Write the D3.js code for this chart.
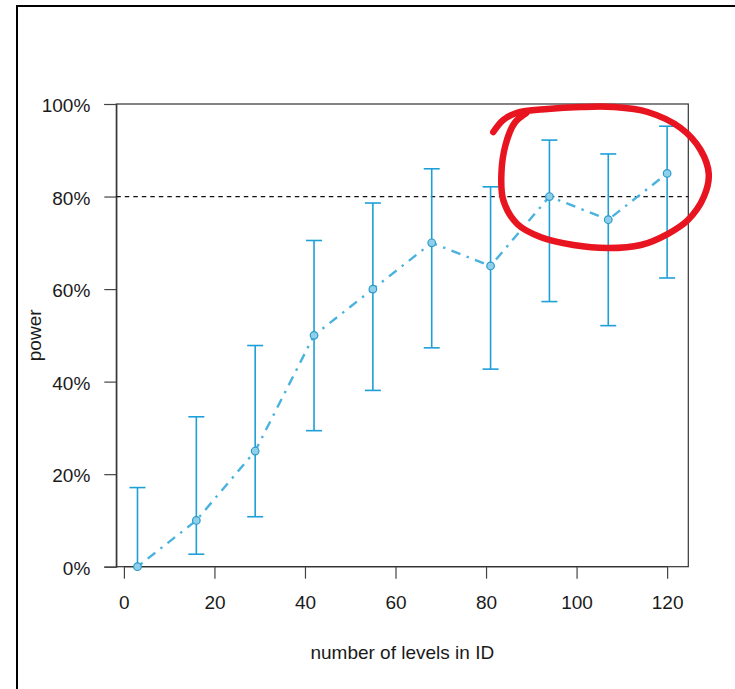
<!DOCTYPE html>
<html>
<head>
<meta charset="utf-8">
<script src="https://cdn.jsdelivr.net/npm/d3@7/dist/d3.min.js"></script>
<style>
  html, body { margin: 0; padding: 0; background: #fff; }
  svg { display: block; }
  text { font-family: "Liberation Sans", Arial, Helvetica, sans-serif; fill: #1a1a1a; }
</style>
</head>
<body>
<script>
// ---- data ----
const levels = [3, 16, 29, 42, 55, 68, 81, 94, 107, 120];
const power  = [0.00, 0.10, 0.25, 0.50, 0.60, 0.70, 0.65, 0.80, 0.75, 0.85];
const lower  = [0.000, 0.027, 0.108, 0.294, 0.381, 0.473, 0.427, 0.573, 0.521, 0.624];
const upper  = [0.171, 0.324, 0.478, 0.705, 0.786, 0.860, 0.821, 0.922, 0.892, 0.952];
const xTicks = [0, 20, 40, 60, 80, 100, 120];
const yTicks = [0, 0.2, 0.4, 0.6, 0.8, 1.0];
const target = 0.8;
// hand-drawn annotation loop (in data units)
const loopX = [81.6, 83.8, 86.7, 93.6, 100.9, 108.2, 115.7, 123.0, 127.4, 129.2, 128.1, 124.6, 120.1, 114.2, 106.9, 99.3, 92.0, 86.9, 83.8, 83.4, 84.3, 86.3, 88.9];
const loopY = [0.9395, 0.9654, 0.9805, 0.9892, 0.9935, 0.9935, 0.9827, 0.9481, 0.9006, 0.8487, 0.7990, 0.7493, 0.7190, 0.6952, 0.6887, 0.6952, 0.7125, 0.7406, 0.7925, 0.8509, 0.9114, 0.9589, 0.9805];

const W = 735, H = 689;
const box = { left: 116.3, right: 688.3, top: 104, bottom: 566.7 };

const svg = d3.select("body").append("svg")
  .attr("width", W).attr("height", H);
svg.append("rect").attr("width", W).attr("height", H).attr("fill", "#fff");

// outer frame (extends past the picture on right/bottom)
svg.append("path")
  .attr("d", `M17,${H + 5} L17,6 L${W + 5},6`)
  .attr("fill", "none").attr("stroke", "#000").attr("stroke-width", 2);

const xr = d3.extent(levels);
const pad = (xr[1] - xr[0]) * 0.04;
const x = d3.scaleLinear().domain([xr[0] - pad, xr[1] + pad]).range([box.left, box.right]);
const y = d3.scaleLinear().domain([0, 1]).range([box.bottom, box.top]);

// plot box
svg.append("rect")
  .attr("x", box.left).attr("y", box.top)
  .attr("width", box.right - box.left).attr("height", box.bottom - box.top)
  .attr("fill", "none").attr("stroke", "#333").attr("stroke-width", 1.2);

// axes
const xAxis = d3.axisBottom(x).tickValues(xTicks).tickSize(12).tickPadding(17).tickFormat(d3.format("d"));
const gx = svg.append("g").attr("transform", `translate(0,${box.bottom})`).call(xAxis);
gx.select(".domain").attr("d", `M${x(xTicks[0])},0H${x(xTicks[xTicks.length - 1])}`).attr("stroke", "#333").attr("stroke-width", 1.2);
gx.selectAll(".tick line").attr("stroke", "#444").attr("stroke-width", 1.2);
gx.selectAll(".tick text").attr("font-size", 19).style("font-family", "'Liberation Sans', Arial, sans-serif").attr("fill", "#1a1a1a");

const yAxis = d3.axisLeft(y).tickValues(yTicks).tickSize(12).tickPadding(14).tickFormat(d3.format(".0%"));
const gy = svg.append("g").attr("transform", `translate(${box.left},0)`).call(yAxis);
gy.select(".domain").attr("stroke", "#333").attr("stroke-width", 1.2);
gy.selectAll(".tick line").attr("stroke", "#444").attr("stroke-width", 1.2);
gy.selectAll(".tick text").attr("font-size", 19).attr("dy", "0.4em").style("font-family", "'Liberation Sans', Arial, sans-serif").attr("fill", "#1a1a1a");

// axis titles
svg.append("text")
  .attr("x", (box.left + box.right) / 2).attr("y", 659)
  .attr("text-anchor", "middle").attr("font-size", 19)
  .text("number of levels in ID");
svg.append("text")
  .attr("transform", `translate(41,${(box.top + box.bottom) / 2}) rotate(-90)`)
  .attr("text-anchor", "middle").attr("font-size", 19)
  .text("power");

// target line
svg.append("line")
  .attr("x1", box.left).attr("x2", box.right)
  .attr("y1", y(target)).attr("y2", y(target))
  .attr("stroke", "#111").attr("stroke-width", 1.2).attr("stroke-dasharray", "4.5,4");

// data
const data = levels.map((l, i) => ({ l, p: power[i], lo: lower[i], hi: upper[i] }));

// error bars
const barColor = "#1E9FD8";
const eb = svg.append("g").attr("stroke", barColor).attr("stroke-width", 1.6).attr("fill", "none");
data.forEach(d => {
  const cx = x(d.l);
  eb.append("line").attr("x1", cx).attr("x2", cx).attr("y1", y(d.lo)).attr("y2", y(d.hi));
  eb.append("line").attr("x1", cx - 8).attr("x2", cx + 8).attr("y1", y(d.hi)).attr("y2", y(d.hi));
  if (d.lo > 0) eb.append("line").attr("x1", cx - 8).attr("x2", cx + 8).attr("y1", y(d.lo)).attr("y2", y(d.lo));
});

// dot-dash line
const line = d3.line().x(d => x(d.l)).y(d => y(d.p));
svg.append("path").datum(data)
  .attr("d", line)
  .attr("fill", "none").attr("stroke", "#4AB2DE").attr("stroke-width", 2.4)
  .attr("stroke-dasharray", "2.4,6.6,9.6,6.6")
  .attr("stroke-dashoffset", -4);

// points
svg.append("g").selectAll("circle").data(data).join("circle")
  .attr("cx", d => x(d.l)).attr("cy", d => y(d.p)).attr("r", 3.8)
  .attr("fill", "#8FCFE9").attr("stroke", "#2B9BCB").attr("stroke-width", 1.2);

// red annotation loop
const loop = loopX.map((v, i) => [x(v), y(loopY[i])]);
svg.append("path")
  .attr("d", d3.line().curve(d3.curveCatmullRom.alpha(0.5))(loop))
  .attr("fill", "none").attr("stroke", "#E8141F").attr("stroke-width", 6.5)
  .attr("stroke-linecap", "round").attr("stroke-linejoin", "round");
</script>
</body>
</html>
